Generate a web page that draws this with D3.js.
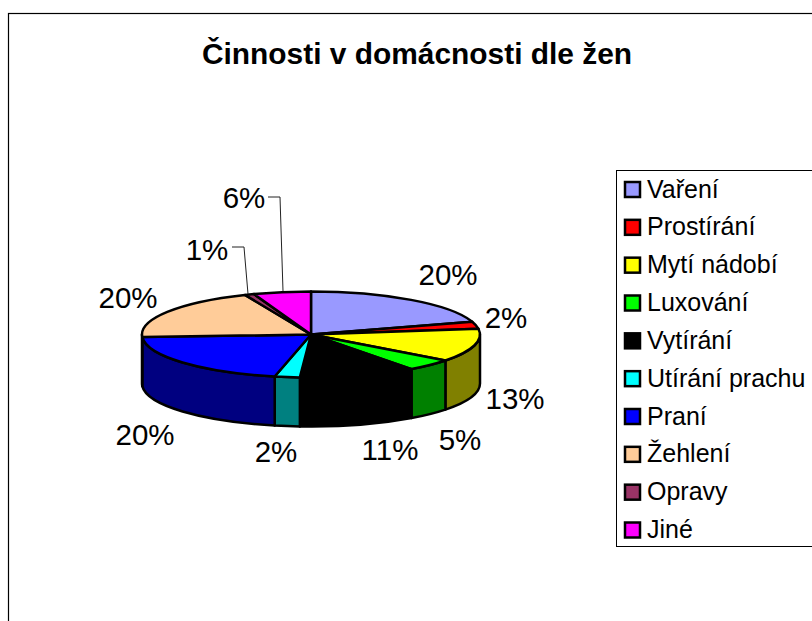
<!DOCTYPE html>
<html><head><meta charset="utf-8">
<script src="https://cdn.jsdelivr.net/npm/d3@7/dist/d3.min.js"></script>
<style>html,body{margin:0;background:#fff}svg{display:block}text{font-family:"Liberation Sans",Arial,sans-serif;fill:#000}</style>
</head><body><svg id="c" width="812" height="621"></svg>
<script>
const categories=["Vaření","Prostírání","Mytí nádobí","Luxování","Vytírání","Utírání prachu","Praní","Žehlení","Opravy","Jiné"];
const values=[20.2,2.7,12.5,4.5,11.2,2.4,20.6,19.6,0.9,5.5];
const percentLabels=["20%","2%","13%","5%","11%","2%","20%","20%","1%","6%"];
const topColors=["#9999ff","#ff0000","#ffff00","#00ff00","#000000","#00ffff","#0000ff","#ffcc99","#993366","#ff00ff"];
const sideColors=["#4d4d80","#800000","#808000","#008000","#000000","#008080","#000080","#806650","#4d1a33","#800080"];
const chartTitle="Činnosti v domácnosti dle žen";

// layout
const cx=311,cy=334.5,rx=169,ry=43,depth=49;
const labelCenters=[[448,275],[506,318],[515,399],[460,440],[390,450],[276,452],[145,435],[128,298],[207,250],[244,198]];
const leaders={8:[[232,247],[244,247],[248,294]],9:[[268,197],[280,197],[283,291]]};

const svg=d3.select("#c");
svg.append("rect").attr("x",8.5).attr("y",13.5).attr("width",1000).attr("height",1000).attr("fill","#fff").attr("stroke","#000").attr("stroke-width",1.2);
svg.append("text").attr("x",417).attr("y",64).attr("text-anchor","middle").attr("font-weight","bold").attr("font-size",29.9).text(chartTitle);

const arcs=d3.pie().sort(null)(values);
const px=a=>cx+rx*Math.sin(a), py=a=>cy-ry*Math.cos(a);
const sideG=svg.append("g").attr("stroke","#000").attr("stroke-width",2.5).attr("stroke-linejoin","round");
// side walls: only the front half of the disc is visible
arcs.forEach((d,i)=>{
  const a0=Math.max(d.startAngle,Math.PI/2),a1=Math.min(d.endAngle,Math.PI*1.5);
  if(a1<=a0)return;
  const p=`M${px(a0)},${py(a0)}A${rx},${ry} 0 0 1 ${px(a1)},${py(a1)}L${px(a1)},${py(a1)+depth}A${rx},${ry} 0 0 0 ${px(a0)},${py(a0)+depth}Z`;
  sideG.append("path").attr("d",p).attr("fill",sideColors[i]);
});
// top faces
const arc=d3.arc().innerRadius(0).outerRadius(1);
const topG=svg.append("g").attr("transform",`translate(${cx},${cy}) scale(${rx},${ry})`);
arcs.forEach((d,i)=>{
  topG.append("path").attr("d",arc(d)).attr("fill",topColors[i]).attr("stroke","#000").attr("stroke-width",2.5)
    .attr("stroke-linejoin","round").attr("vector-effect","non-scaling-stroke");
});
// leaders
const line=d3.line();
Object.entries(leaders).forEach(([i,pts])=>{
  svg.append("path").attr("d",line(pts)).attr("fill","none").attr("stroke","#222").attr("stroke-width",1);
});
// percent labels
percentLabels.forEach((t,i)=>{
  svg.append("text").attr("x",labelCenters[i][0]).attr("y",labelCenters[i][1]+10).attr("text-anchor","middle").attr("font-size",29.5).text(t);
});
// legend
svg.append("rect").attr("x",616.5).attr("y",170.5).attr("width",400).attr("height",376).attr("fill","#fff").attr("stroke","#000").attr("stroke-width",1);
const ly=d3.scalePoint().domain(categories).range([189.5,530]);
categories.forEach((c,i)=>{
  svg.append("rect").attr("x",625).attr("y",ly(c)-7.5).attr("width",15).attr("height",15).attr("fill",topColors[i]).attr("stroke","#000").attr("stroke-width",2.5);
  svg.append("text").attr("x",647).attr("y",ly(c)+8).attr("font-size",25).text(c);
});
</script></body></html>
